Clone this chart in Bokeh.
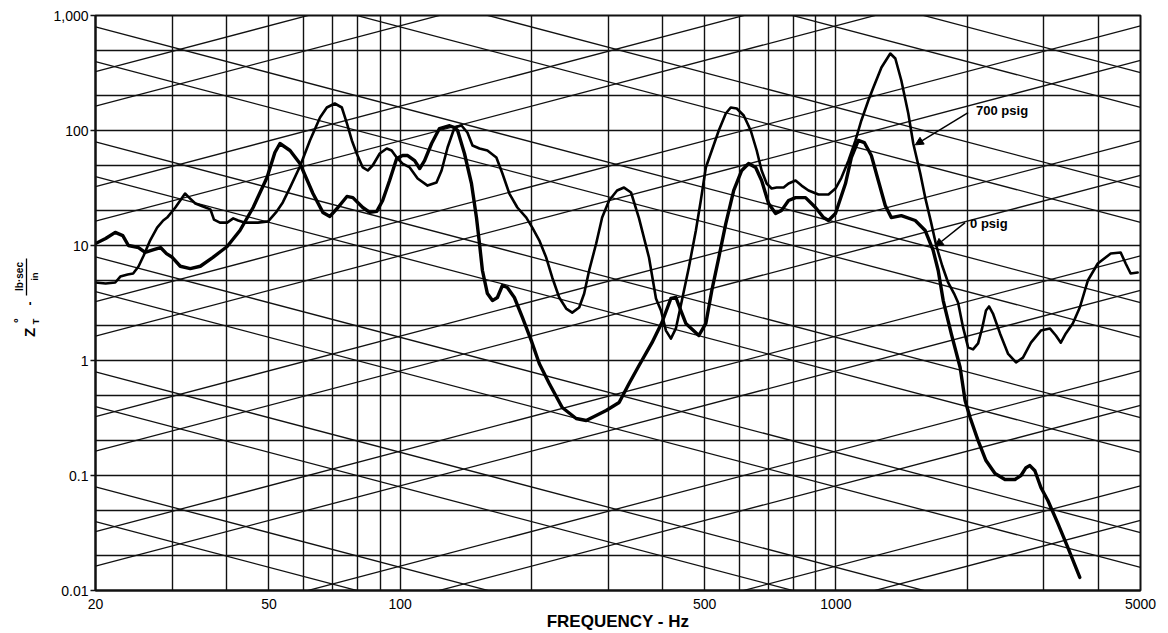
import math

from bokeh.plotting import figure
from bokeh.layouts import row
from bokeh.models import Range1d, FixedTicker, Label, Arrow, NormalHead
from bokeh.embed import file_html
from bokeh.resources import INLINE

# Transfer impedance Z_T* (lb-sec/in) against frequency (Hz), two pressures
freq_0psig = [20, 21.1, 22.2, 23.1, 23.8, 25.1, 26.0, 27.2, 28.2, 29.1,
              30.0, 31.3, 33.0, 34.8, 37.2, 40.1, 42.9, 46.0, 49.5, 51.6,
              53.0, 55.9, 58.9, 63.1, 66.5, 69.0, 72.0, 75.5, 77.9, 82.1,
              85.2, 88.4, 91.2, 94.6, 98.2, 101.3, 104.1, 108.0, 110.9, 113.8,
              118.1, 123.1, 129.9, 133.3, 135.5, 140.5, 145.8, 149.7, 152.1, 154.5,
              158.6, 162.9, 167.2, 171.7, 176.2, 182.9, 190.8, 200, 208.6, 219.9,
              235.5, 253.5, 267.3, 281.8, 297.0, 318.1, 335.3, 353.4, 378.5, 398.8,
              418.2, 429.4, 440.8, 452.6, 467.1, 484.7, 503.0, 519.1, 538.6, 558.9,
              582.9, 608.0, 630.7, 654.5, 675.4, 700.8, 727.2, 750.6, 778.7, 808.0,
              851.8, 897.9, 936.6, 961.6, 997.7, 1052, 1085, 1126, 1162, 1206,
              1251, 1298, 1340, 1413, 1521, 1603, 1672, 1717, 1763, 1839,
              1928, 1979, 2032, 2120, 2210, 2318, 2443, 2576, 2659, 2730,
              2787, 2862, 2954, 3065, 3231, 3405, 3628]
imp_0psig = [10.4, 11.5, 13.0, 12.2, 10.0, 9.6, 8.7, 9.2, 9.6, 8.5,
             7.9, 6.6, 6.3, 6.6, 7.9, 9.8, 13.5, 21.4, 39.0, 64.4,
             77.1, 67.0, 51.6, 28.3, 19.4, 17.9, 21.4, 26.7, 26.1, 21.4,
             19.4, 19.8, 24.6, 36.7, 57.1, 60.6, 60.6, 54.8, 46.7, 54.8,
             77.1, 104, 110, 106, 100, 63.1, 34.6, 17.5, 10.4, 6.06,
             3.82, 3.32, 3.53, 4.49, 4.31, 3.53, 2.37, 1.49, 0.942, 0.631,
             0.390, 0.313, 0.301, 0.332, 0.367, 0.431, 0.631, 0.905, 1.43, 2.14,
             3.46, 3.53, 2.72, 2.10, 1.88, 1.65, 2.10, 4.06, 7.86, 15.5,
             30.1, 44.9, 51.6, 47.7, 36.7, 23.2, 19.0, 20.2, 24.6, 26.1,
             26.1, 21.4, 17.5, 16.5, 19.0, 34.6, 58.2, 81.9, 78.6, 60.6,
             36.7, 22.3, 17.5, 18.2, 16.5, 13.5, 9.05, 6.06, 3.32, 1.72,
             0.869, 0.449, 0.319, 0.201, 0.135, 0.104, 0.0923, 0.0923, 0.100, 0.117,
             0.122, 0.110, 0.0787, 0.0606, 0.0383, 0.0237, 0.0130]

freq_700psig = [20, 21.1, 22.2, 22.8, 23.7, 24.4, 25.1, 25.8, 26.7, 27.7,
                28.6, 29.2, 30.5, 32.1, 32.8, 33.9, 35.3, 36.7, 37.4, 38.6,
                40.1, 41.4, 42.5, 44.1, 47.2, 49.8, 51.9, 53.8, 55.9, 58.9,
                62.1, 65.5, 67.9, 70.8, 73.5, 75.5, 77.5, 79.5, 82.1, 84.3,
                86.5, 89.8, 93.2, 95.6, 98.2, 101.3, 105.2, 109.7, 115.6, 121.2,
                124.5, 128.5, 133.3, 138.3, 142.7, 146.6, 152.1, 158.6, 166.3, 171.7,
                178.1, 185.8, 194.8, 201.1, 208.6, 216.4, 223.4, 231.8, 240.5, 248.3,
                257.6, 264.5, 271.5, 281.8, 290.8, 301.7, 314.7, 326.5, 338.8, 353.4,
                372.5, 386.5, 396.8, 407.4, 418.2, 429.4, 443.2, 459.8, 477.2, 489.8,
                503.0, 519.1, 538.6, 558.9, 573.7, 592.2, 614.5, 637.6, 658.1, 675.4,
                693.5, 712.0, 731.1, 758.6, 778.7, 808.0, 834.0, 865.4, 912.3, 961.6,
                997.7, 1030, 1069, 1109, 1144, 1187, 1219, 1272, 1333, 1369,
                1413, 1466, 1505, 1562, 1603, 1654, 1699, 1753, 1809, 1867,
                1907, 1958, 2011, 2064, 2120, 2165, 2210, 2246, 2293, 2380,
                2482, 2590, 2687, 2803, 2954, 3097, 3197, 3282, 3370, 3496,
                3628, 3785, 3990, 4273, 4503, 4623, 4746, 4925]
imp_700psig = [4.77, 4.67, 4.77, 5.37, 5.59, 5.71, 6.57, 8.19, 11.1, 14.3,
               16.5, 17.5, 21.4, 28.3, 26.1, 23.2, 21.8, 20.6, 16.8, 15.8,
               15.8, 17.2, 16.5, 15.8, 15.8, 16.2, 19.4, 23.7, 31.9, 48.6,
               81.9, 129.7, 158.5, 171.7, 158.5, 115.1, 81.9, 63.1, 47.7, 44.9,
               49.6, 63.1, 69.7, 67.0, 58.2, 51.6, 47.7, 38.2, 33.2, 35.3,
               44.9, 71.2, 106.2, 110.5, 96.1, 74.1, 69.7, 67.0, 58.2, 42.3,
               28.3, 21.4, 17.5, 14.3, 11.1, 7.86, 5.27, 3.53, 2.83, 2.61,
               2.89, 3.82, 6.06, 10.4, 17.5, 24.6, 30.1, 31.9, 28.9, 17.2,
               7.86, 3.46, 2.72, 1.82, 1.55, 1.90, 3.32, 6.44, 13.5, 24.6,
               47.7, 67.0, 100, 140.5, 158.5, 155.4, 135.0, 100, 67.0, 44.9,
               34.6, 31.3, 31.9, 31.9, 34.6, 36.7, 33.2, 30.1, 27.8, 27.8,
               31.3, 39.0, 54.8, 81.9, 122.2, 182.3, 236.5, 353.1, 467.3, 422.7,
               272.1, 140.5, 77.1, 42.3, 26.1, 15.8, 10.0, 6.70, 4.77, 3.82,
               3.19, 1.94, 1.30, 1.25, 1.41, 1.90, 2.72, 2.95, 2.56, 1.72,
               1.15, 0.961, 1.06, 1.43, 1.82, 1.90, 1.65, 1.43, 1.72, 2.10,
               2.89, 4.96, 6.97, 8.52, 8.69, 6.97, 5.71, 5.82]

# Diagonal reference lines of the impedance paper:
# constant weight (lb) rising lines and constant stiffness (lb/in) falling lines
mass_lines_lb = [0.0005, 0.001, 0.005, 0.01, 0.05, 0.1, 0.5, 1, 5, 10, 50, 100, 500, 1000]
stiffness_lines_lb_in = [5, 10, 50, 100, 500, 1e3, 5e3, 1e4, 5e4, 1e5, 5e5, 1e6, 5e6, 1e7]
GRAVITY_IN_S2 = 386.1

# Paper rulings and labelled ticks
freq_rulings = [20, 30, 40, 50, 60, 70, 80, 90, 100, 200, 300, 400, 500, 600, 700,
                800, 900, 1000, 2000, 3000, 4000, 5000]
imp_rulings = [0.01, 0.02, 0.05, 0.1, 0.2, 0.5, 1, 2, 5, 10, 20, 50, 100, 200, 500, 1000]
x_tick_values = [20, 50, 100, 500, 1000, 5000]
x_tick_labels = ["20", "50", "100", "500", "1000", "5000"]
y_tick_values = [0.01, 0.1, 1, 10, 100, 1000]
y_tick_labels = ["0.01", "0.1", "1", "10", "100", "1,000"]

F_MIN, F_MAX = 20, 5000
Z_MIN, Z_MAX = 0.01, 1000
INK = "#111111"
FONT = "Liberation Sans"
TOTAL_W, TOTAL_H = 1168, 633
TITLE_W = 50
FRAME_TOP, FRAME_BOTTOM = 15, 590      # page rows bounding both plot frames

# ---- narrow strip carrying the rotated vertical-axis title ----
tp = figure(width=TITLE_W, height=TOTAL_H,
            x_range=Range1d(0, TITLE_W), y_range=Range1d(FRAME_BOTTOM, FRAME_TOP),
            output_backend="svg", toolbar_location=None,
            min_border_left=0, min_border_right=0,
            min_border_top=FRAME_TOP, min_border_bottom=TOTAL_H - FRAME_BOTTOM)
tp.axis.visible = False
tp.grid.visible = False
tp.outline_line_color = None
tp.background_fill_color = "white"
tp.border_fill_color = "white"

up = math.pi / 2
title_parts = [
    ("Z", 29, 332, "15px"),
    ("°", 18, 320, "12px"),
    ("T", 35, 321, "9px"),
    ("-", 29, 303, "12px"),
    ("lb·sec", 19, 276, "10px"),
    ("in", 34, 276, "9px"),
]
for txt, cx, cy, size in title_parts:
    tp.add_layout(Label(x=cx, y=cy, text=txt, angle=up,
                        text_align="center", text_baseline="middle",
                        text_font=FONT, text_font_size=size,
                        text_font_style="bold", text_color="black"))
tp.line(x=[26, 26], y=[258, 295], line_color="black", line_width=1.3)

# ---- main impedance chart ----
p = figure(width=TOTAL_W - TITLE_W, height=TOTAL_H,
           x_axis_type="log", y_axis_type="log",
           x_range=Range1d(F_MIN, F_MAX), y_range=Range1d(Z_MIN, Z_MAX),
           output_backend="svg", toolbar_location=None,
           min_border_left=95 - TITLE_W, min_border_right=28,
           min_border_top=FRAME_TOP, min_border_bottom=TOTAL_H - FRAME_BOTTOM)
p.background_fill_color = "white"
p.border_fill_color = "white"
p.outline_line_color = INK
p.outline_line_width = 2

# rectangular rulings
p.xgrid.ticker = FixedTicker(ticks=freq_rulings)
p.ygrid.ticker = FixedTicker(ticks=imp_rulings)
p.xgrid.grid_line_color = INK
p.ygrid.grid_line_color = INK
p.xgrid.grid_line_width = 1.4
p.ygrid.grid_line_width = 1.4

# mass and stiffness diagonals
two_pi = 2 * math.pi
diag_xs, diag_ys = [], []
for w in mass_lines_lb:
    m = w / GRAVITY_IN_S2
    diag_xs.append([F_MIN, F_MAX])
    diag_ys.append([two_pi * F_MIN * m, two_pi * F_MAX * m])
for k in stiffness_lines_lb_in:
    diag_xs.append([F_MIN, F_MAX])
    diag_ys.append([k / (two_pi * F_MIN), k / (two_pi * F_MAX)])
p.multi_line(diag_xs, diag_ys, line_color=INK, line_width=1.3)

# measured curves
p.line(freq_700psig, imp_700psig, line_color="black", line_width=2.6,
       line_join="round", line_cap="round")
p.line(freq_0psig, imp_0psig, line_color="black", line_width=3.4,
       line_join="round", line_cap="round")

# axes
p.xaxis.ticker = FixedTicker(ticks=x_tick_values)
p.xaxis.major_label_overrides = dict(zip(x_tick_values, x_tick_labels))
p.yaxis.ticker = FixedTicker(ticks=y_tick_values)
p.yaxis.major_label_overrides = dict(zip(y_tick_values, y_tick_labels))
p.axis.axis_line_width = 2
p.axis.axis_line_color = INK
p.axis.minor_tick_line_color = None
p.axis.major_label_text_font = FONT
p.axis.major_label_text_font_size = "14px"
p.axis.major_label_text_color = "black"
p.xaxis.major_tick_line_color = None
p.xaxis.major_label_standoff = 2
p.yaxis.major_tick_line_color = INK
p.yaxis.major_tick_line_width = 1.5
p.yaxis.major_tick_out = 5
p.yaxis.major_tick_in = 0
p.yaxis.major_label_standoff = 2

p.xaxis.axis_label = "FREQUENCY - Hz"
p.xaxis.axis_label_text_font = FONT
p.xaxis.axis_label_text_font_style = "bold"
p.xaxis.axis_label_text_font_size = "17px"
p.xaxis.axis_label_text_color = "black"
p.xaxis.axis_label_standoff = 0

# curve call-outs
p.add_layout(Arrow(end=NormalHead(size=8, fill_color="black", line_color="black"),
                   x_start=2011, y_start=143, x_end=1521, y_end=75,
                   line_color="black", line_width=1.5))
p.add_layout(Label(x=2097, y=149, text="700 psig", text_align="left",
                   text_baseline="middle", text_font=FONT, text_font_size="13px",
                   text_font_style="bold", text_color="black"))
p.add_layout(Arrow(end=NormalHead(size=8, fill_color="black", line_color="black"),
                   x_start=1979, y_start=15.8, x_end=1690, y_end=9.8,
                   line_color="black", line_width=1.5))
p.add_layout(Label(x=2032, y=15.5, text="0 psig", text_align="left",
                   text_baseline="middle", text_font=FONT, text_font_size="13px",
                   text_font_style="bold", text_color="black"))

layout = row(tp, p, spacing=0)
open("out.html", "w").write(file_html(layout, INLINE))
